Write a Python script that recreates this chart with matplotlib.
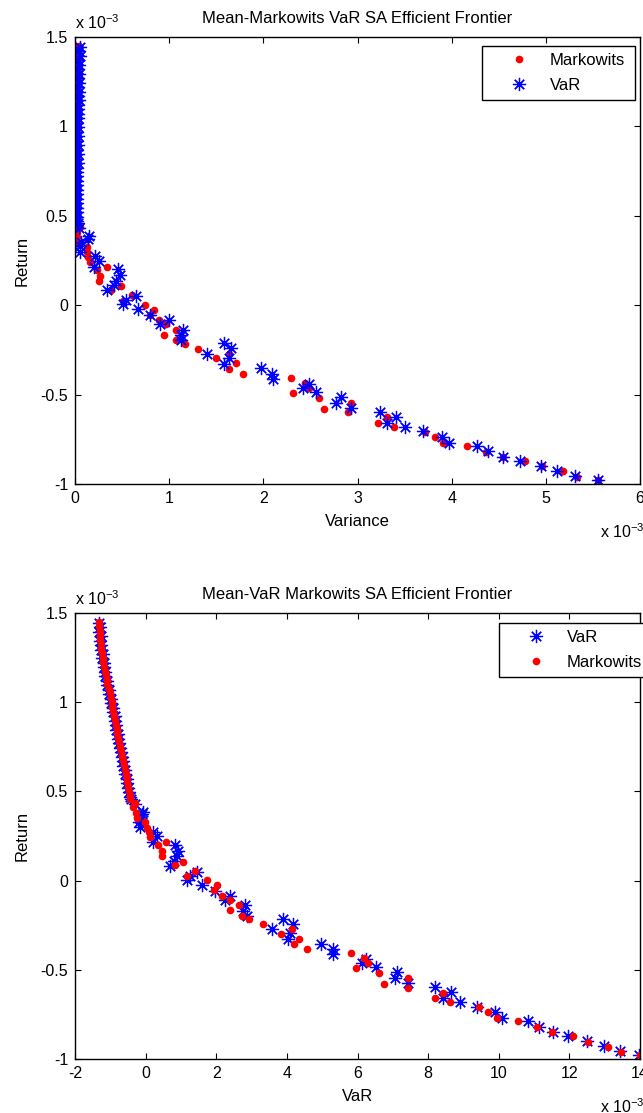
import matplotlib
matplotlib.use("Agg")
import matplotlib.pyplot as plt
from matplotlib.ticker import FormatStrFormatter

# --- 1. Data (all values in units of 1e-3) ---
# Markowits portfolios: return, variance, VaR
mk_ret = [1.450, 1.425, 1.400, 1.375, 1.350, 1.325, 1.300, 1.275, 1.250, 1.225,
          1.200, 1.175, 1.150, 1.125, 1.100, 1.075, 1.050, 1.025, 1.000, 0.975,
          0.950, 0.925, 0.900, 0.875, 0.850, 0.825, 0.800, 0.775, 0.750, 0.725,
          0.700, 0.675, 0.650, 0.625, 0.600, 0.575, 0.550, 0.525, 0.500, 0.475,
          0.455, 0.437, 0.410, 0.380, 0.350, 0.326, 0.295, 0.270, 0.243, 0.197,
          0.215, 0.164, 0.136, 0.106, 0.085, 0.023, 0.055, 0.002, -0.027, -0.055,
          -0.085, -0.107, -0.137, -0.166, -0.196, -0.217, -0.246, -0.298, -0.274, -0.326,
          -0.355, -0.384, -0.406, -0.489, -0.434, -0.462, -0.517, -0.578, -0.548, -0.600,
          -0.658, -0.628, -0.680, -0.711, -0.739, -0.770, -0.789, -0.821, -0.851, -0.872,
          -0.902, -0.930, -0.960, -0.980]
mk_var = [0.045, 0.044, 0.043, 0.042, 0.041, 0.040, 0.039, 0.038, 0.037, 0.036,
          0.035, 0.034, 0.033, 0.032, 0.031, 0.030, 0.029, 0.028, 0.027, 0.026,
          0.025, 0.024, 0.024, 0.023, 0.022, 0.022, 0.021, 0.020, 0.020, 0.019,
          0.019, 0.018, 0.018, 0.017, 0.017, 0.016, 0.016, 0.016, 0.016, 0.016,
          0.020, 0.053, 0.025, 0.022, 0.020, 0.124, 0.130, 0.140, 0.160, 0.230,
          0.335, 0.265, 0.258, 0.490, 0.378, 0.510, 0.610, 0.740, 0.840, 0.800,
          0.890, 0.970, 1.070, 0.950, 1.070, 1.170, 1.310, 1.500, 1.640, 1.710,
          1.640, 1.780, 2.290, 2.320, 2.440, 2.480, 2.590, 2.640, 2.930, 2.900,
          3.220, 3.310, 3.390, 3.720, 3.820, 3.910, 4.160, 4.360, 4.540, 4.780,
          4.960, 5.180, 5.330, 5.550]
mk_VaR = [-1.32, -1.31, -1.30, -1.29, -1.28, -1.27, -1.25, -1.24, -1.22, -1.20,
          -1.18, -1.16, -1.13, -1.10, -1.08, -1.05, -1.02, -0.99, -0.96, -0.94,
          -0.91, -0.89, -0.87, -0.85, -0.82, -0.80, -0.77, -0.75, -0.72, -0.70,
          -0.67, -0.65, -0.62, -0.59, -0.56, -0.54, -0.52, -0.50, -0.48, -0.45,
          -0.44, -0.30, -0.35, -0.27, -0.25, -0.02, 0.03, 0.10, 0.12, 0.36,
          0.58, 0.46, 0.46, 1.05, 0.83, 1.18, 1.39, 1.75, 2.01, 1.94,
          2.17, 2.39, 2.65, 2.39, 2.74, 2.94, 3.32, 3.84, 4.14, 4.35,
          4.20, 4.57, 5.81, 5.95, 6.17, 6.31, 6.61, 6.76, 7.42, 7.42,
          8.20, 8.43, 8.62, 9.43, 9.69, 9.96, 10.54, 11.08, 11.50, 12.10,
          12.52, 13.09, 13.47, 14.00]

# VaR portfolios: return, variance, VaR
va_ret = [1.445, 1.420, 1.395, 1.370, 1.345, 1.320, 1.295, 1.270, 1.245, 1.220,
          1.195, 1.170, 1.145, 1.120, 1.095, 1.070, 1.045, 1.020, 0.995, 0.970,
          0.945, 0.920, 0.895, 0.870, 0.845, 0.820, 0.795, 0.770, 0.745, 0.720,
          0.695, 0.670, 0.645, 0.620, 0.595, 0.570, 0.545, 0.520, 0.495, 0.470,
          0.457, 0.430, 0.386, 0.372, 0.354, 0.330, 0.298, 0.274, 0.248, 0.214,
          0.200, 0.168, 0.136, 0.112, 0.084, 0.050, 0.028, 0.006, -0.024, -0.056,
          -0.084, -0.106, -0.136, -0.168, -0.196, -0.214, -0.242, -0.272, -0.295, -0.330,
          -0.353, -0.385, -0.410, -0.438, -0.461, -0.487, -0.514, -0.546, -0.576, -0.597,
          -0.625, -0.657, -0.680, -0.706, -0.736, -0.768, -0.786, -0.818, -0.850, -0.869,
          -0.898, -0.927, -0.956, -0.980]
va_var = [0.050, 0.038, 0.048, 0.036, 0.046, 0.034, 0.044, 0.033, 0.042, 0.031,
          0.040, 0.030, 0.038, 0.028, 0.036, 0.027, 0.034, 0.026, 0.032, 0.025,
          0.030, 0.024, 0.029, 0.022, 0.028, 0.021, 0.027, 0.020, 0.026, 0.019,
          0.025, 0.018, 0.024, 0.017, 0.023, 0.017, 0.022, 0.017, 0.022, 0.025,
          0.035, 0.045, 0.150, 0.140, 0.060, 0.053, 0.053, 0.210, 0.260, 0.200,
          0.460, 0.480, 0.435, 0.410, 0.340, 0.650, 0.540, 0.505, 0.670, 0.800,
          1.000, 0.900, 1.150, 1.130, 1.130, 1.580, 1.660, 1.400, 1.640, 1.580,
          1.970, 2.090, 2.100, 2.480, 2.420, 2.560, 2.830, 2.770, 2.930, 3.240,
          3.410, 3.310, 3.500, 3.700, 3.900, 3.970, 4.270, 4.390, 4.540, 4.730,
          4.950, 5.120, 5.310, 5.550]
va_VaR = [-1.33, -1.30, -1.31, -1.27, -1.28, -1.25, -1.26, -1.22, -1.23, -1.19,
          -1.19, -1.15, -1.14, -1.09, -1.09, -1.04, -1.03, -0.98, -0.97, -0.93,
          -0.92, -0.88, -0.88, -0.84, -0.83, -0.79, -0.78, -0.74, -0.73, -0.69,
          -0.68, -0.64, -0.63, -0.58, -0.57, -0.53, -0.52, -0.49, -0.47, -0.44,
          -0.42, -0.30, -0.07, -0.10, -0.16, -0.20, -0.16, 0.22, 0.31, 0.22,
          0.83, 0.93, 0.88, 0.79, 0.69, 1.45, 1.25, 1.18, 1.59, 1.97,
          2.39, 2.25, 2.82, 2.77, 2.86, 3.88, 4.17, 3.57, 4.09, 4.04,
          4.96, 5.30, 5.32, 6.24, 6.12, 6.53, 7.11, 7.07, 7.44, 8.20,
          8.64, 8.42, 8.89, 9.38, 9.90, 10.09, 10.84, 11.13, 11.55, 11.97,
          12.50, 12.97, 13.44, 13.96]

# --- 2. Style (MATLAB look) ---
plt.rcParams['font.family'] = ['Liberation Sans', 'DejaVu Sans']
plt.rcParams['font.size'] = 12
plt.rcParams['axes.unicode_minus'] = False
plt.rcParams['mathtext.fontset'] = 'custom'
plt.rcParams['mathtext.rm'] = 'Liberation Sans'

star = (8, 2, 0)
red_kw = dict(linestyle='none', marker='o', markersize=5.5, color=(1, 0, 0),
              markeredgewidth=0)
blue_kw = dict(linestyle='none', marker=star, markersize=9.5, color=(0, 0, 1),
               markeredgewidth=0.9)

W, H = 643, 1113
fig = plt.figure(figsize=(W / 100, H / 100), dpi=100)


def style_axes(ax, xticks):
    ax.set_ylim(-1, 1.5)
    ax.set_yticks([-1, -0.5, 0, 0.5, 1, 1.5])
    ax.set_xticks(xticks)
    ax.set_xlim(xticks[0], xticks[-1])
    ax.xaxis.set_major_formatter(FormatStrFormatter('%g'))
    ax.yaxis.set_major_formatter(FormatStrFormatter('%g'))
    ax.tick_params(direction='in', top=True, right=True, length=4,
                   width=0.8, labelsize=11.5, pad=5)
    for s in ax.spines.values():
        s.set_linewidth(1.0)
    ax.text(0, 1.032, r'x 10$^{-3}$', transform=ax.transAxes,
            ha='left', va='center', fontsize=11.5)
    ax.text(0.929, -0.106, r'x 10$^{-3}$', transform=ax.transAxes,
            ha='left', va='center', fontsize=11.5)


def add_legend(ax, handles, labels, left_px, top_px):
    bb = (left_px / W, 1 - (top_px + 55) / H, 153 / W, 55 / H)
    leg = ax.legend(handles, labels, loc='upper left', bbox_to_anchor=bb,
                    bbox_transform=fig.transFigure, mode='expand',
                    borderaxespad=0, borderpad=0.4, handlelength=3.64,
                    handletextpad=0.04, labelspacing=0.62, numpoints=1,
                    fancybox=False, framealpha=1, edgecolor='black',
                    fontsize=12)
    leg.get_frame().set_linewidth(1.0)


# --- 3. Top: Return vs Variance ---
ax1 = fig.add_axes([75 / W, 1 - 484 / H, 565 / W, 447 / H])
h_mk, = ax1.plot(mk_var, mk_ret, **red_kw)
h_va, = ax1.plot(va_var, va_ret, **blue_kw)
style_axes(ax1, [0, 1, 2, 3, 4, 5, 6])
ax1.set_title('Mean-Markowits VaR SA Efficient Frontier', fontsize=12, pad=10)
ax1.set_xlabel('Variance', labelpad=6)
ax1.set_ylabel('Return', labelpad=8)
add_legend(ax1, [h_mk, h_va], ['Markowits', 'VaR'], 482, 46)

# --- 4. Bottom: Return vs VaR ---
ax2 = fig.add_axes([75 / W, 1 - 1059 / H, 565 / W, 446 / H])
h_va2, = ax2.plot(va_VaR, va_ret, **blue_kw)
h_mk2, = ax2.plot(mk_VaR, mk_ret, **red_kw)
style_axes(ax2, [-2, 0, 2, 4, 6, 8, 10, 12, 14])
ax2.set_title('Mean-VaR Markowits SA Efficient Frontier', fontsize=12, pad=10)
ax2.set_xlabel('VaR', labelpad=6)
ax2.set_ylabel('Return', labelpad=8)
add_legend(ax2, [h_va2, h_mk2], ['VaR', 'Markowits'], 499, 623)

fig.savefig('out.png', dpi=100)
